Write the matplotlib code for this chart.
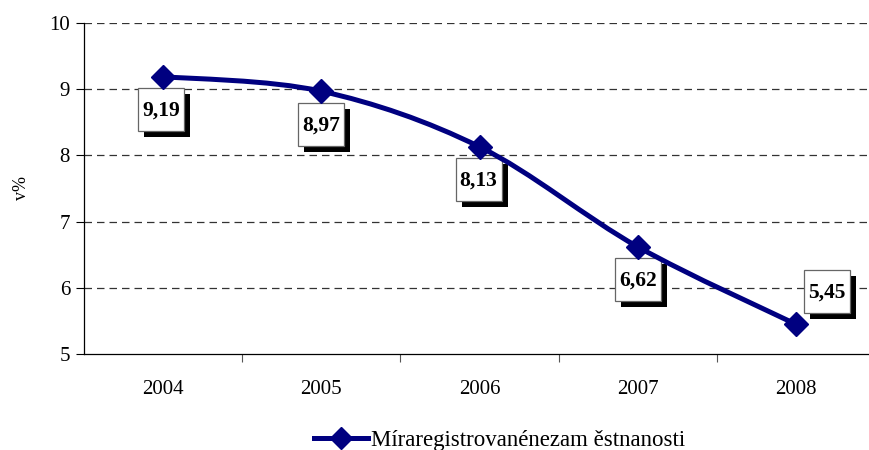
import numpy as np
import matplotlib
matplotlib.use('Agg')
import matplotlib.pyplot as plt
from matplotlib.path import Path
from matplotlib.patches import PathPatch, Rectangle
from matplotlib.lines import Line2D
from matplotlib.transforms import IdentityTransform, ScaledTranslation

# data
years = ['2004', '2005', '2006', '2007', '2008']
rate = [9.19, 8.97, 8.13, 6.62, 5.45]
labels = ['9,19', '8,97', '8,13', '6,62', '5,45']
# label box centre offsets in pixels (dx, dy) relative to the point
label_offsets = [(-2, -33), (0, -33), (-1, -33), (0, -33), (31, 33)]

plt.rcParams['font.family'] = ['Liberation Serif', 'DejaVu Serif']

fig = plt.figure(figsize=(8.69, 4.5), dpi=100)
ax = fig.add_axes([84 / 869, 96 / 450, 791 / 869, 331 / 450])

x = np.arange(len(years))
y = np.array(rate)
navy = '#000080'

# smoothed line like Excel (Catmull-Rom as cubic bezier)
verts = [(x[0], y[0])]
codes = [Path.MOVETO]
for i in range(len(x) - 1):
    p0 = np.array([x[max(i - 1, 0)], y[max(i - 1, 0)]])
    p1 = np.array([x[i], y[i]])
    p2 = np.array([x[i + 1], y[i + 1]])
    p3 = np.array([x[min(i + 2, len(x) - 1)], y[min(i + 2, len(x) - 1)]])
    c1 = p1 + (p2 - p0) / 6
    c2 = p2 - (p3 - p1) / 6
    verts += [tuple(c1), tuple(c2), tuple(p2)]
    codes += [Path.CURVE4] * 3
ax.add_patch(PathPatch(Path(verts, codes), facecolor='none', edgecolor=navy,
                       lw=3.6, zorder=5, capstyle='round', joinstyle='round'))
ax.plot(x, y, linestyle='none', marker='D', markersize=12.5, color=navy, zorder=6)

# label boxes with black drop shadow (pixel-sized, anchored at the points)
bw, bh, sh = 46, 43, 6
for xi, yi, lab, (dx, dy) in zip(x, y, labels, label_offsets):
    tr = IdentityTransform() + ScaledTranslation(xi, yi, ax.transData)
    ax.add_patch(Rectangle((dx - bw / 2 + sh, dy - bh / 2 - sh), bw, bh,
                           transform=tr, fc='black', ec='none', zorder=3,
                           clip_on=False))
    ax.add_patch(Rectangle((dx - bw / 2, dy - bh / 2), bw, bh,
                           transform=tr, fc='white', ec='#666666', lw=0.9,
                           zorder=3.5, clip_on=False))
    ax.annotate(lab, (xi, yi), xytext=(dx, dy - 1), textcoords='offset pixels',
                ha='center', va='center', fontsize=15.5, fontweight='bold',
                zorder=4)

ax.set_xlim(-0.5, len(years) - 0.5)
ax.set_ylim(5, 10)
ax.set_yticks([5, 6, 7, 8, 9, 10])
ax.set_yticklabels(['5', '6', '7', '8', '9', '10'], fontsize=15)
for v in [6, 7, 8, 9, 10]:
    ax.axhline(v, color='#333333', lw=0.9, ls=(0, (6, 4)), zorder=1)

ax.set_xticks(x)
ax.set_xticklabels(years, fontsize=15)
ax.set_xticks(np.arange(0.5, len(years) - 0.5, 1), minor=True)
ax.tick_params(axis='x', which='major', length=0, pad=19)
ax.tick_params(axis='x', which='minor', length=6, width=0.8, color='#555555')
ax.tick_params(axis='y', length=6, width=0.8, pad=4)

for s in ['top', 'right']:
    ax.spines[s].set_visible(False)
ax.spines['left'].set_linewidth(0.9)
ax.spines['bottom'].set_linewidth(0.9)

ax.set_ylabel('v%', fontsize=13, labelpad=14)

handle = Line2D([], [], color=navy, lw=3.6, marker='D', markersize=11)
fig.legend([handle], ['Míraregistrovanénezam ěstnanosti'], loc='center',
           bbox_to_anchor=(0.575, 0.022), frameon=False, fontsize=16.5,
           handlelength=2.35, handletextpad=0.15)

fig.savefig('out.png', dpi=100)
